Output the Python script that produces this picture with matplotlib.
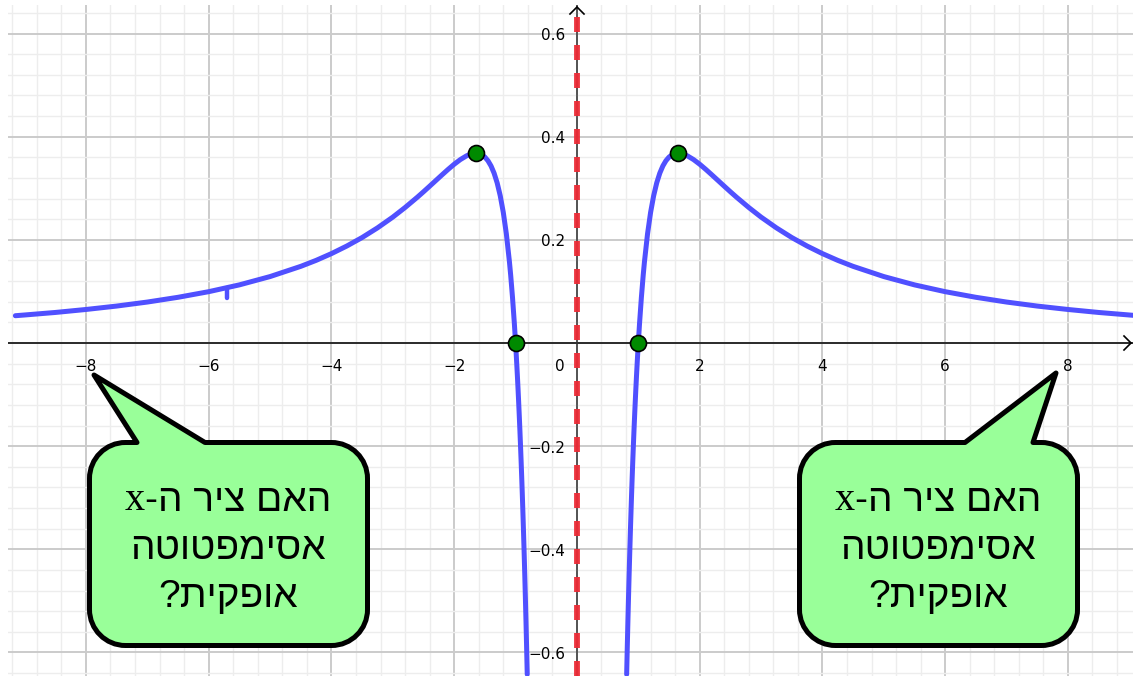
import matplotlib
matplotlib.use('Agg')
import matplotlib.pyplot as plt
import numpy as np
from matplotlib.path import Path
from matplotlib.patches import PathPatch

# ---------------- data ----------------
right_x = [0.81, 0.82, 0.83, 0.84, 0.85, 0.86, 0.87, 0.88, 0.89, 0.90, 0.91, 0.92,
           0.93, 0.94, 0.95, 0.96, 0.97, 0.98, 0.99, 1.00, 1.02, 1.05, 1.08, 1.10,
           1.15, 1.20, 1.25, 1.30, 1.35, 1.40, 1.45, 1.50, 1.55, 1.60, 1.65, 1.70,
           1.75, 1.80, 1.90, 2.00, 2.10, 2.20, 2.30, 2.40, 2.50, 2.60, 2.80, 3.00,
           3.25, 3.50, 3.75, 4.00, 4.25, 4.50, 5.00, 5.50, 6.00, 6.50, 7.00, 7.50,
           8.00, 8.50, 9.00, 9.10]
right_y = [-0.6423, -0.5903, -0.5409, -0.4942, -0.4498, -0.4079, -0.3680, -0.3302,
           -0.2942, -0.2602, -0.2278, -0.1970, -0.1678, -0.1401, -0.1137, -0.0886,
           -0.0647, -0.0421, -0.0205, 0.0000, 0.0381, 0.0885, 0.1320, 0.1575,
           0.2114, 0.2532, 0.2856, 0.3105, 0.3293, 0.3433, 0.3534, 0.3604, 0.3648,
           0.3672, 0.3679, 0.3672, 0.3655, 0.3628, 0.3556, 0.3466, 0.3365, 0.3258,
           0.3149, 0.3040, 0.2932, 0.2827, 0.2627, 0.2441, 0.2232, 0.2045, 0.1880,
           0.1733, 0.1602, 0.1486, 0.1288, 0.1127, 0.0995, 0.0886, 0.0794, 0.0716,
           0.0650, 0.0592, 0.0543, 0.0533]
left_x = [-9.15, -9.00, -8.50, -8.00, -7.50, -7.00, -6.50, -6.00, -5.50, -5.00,
          -4.50, -4.25, -4.00, -3.75, -3.50, -3.25, -3.00, -2.80, -2.60, -2.50,
          -2.40, -2.30, -2.20, -2.10, -2.00, -1.90, -1.80, -1.75, -1.70, -1.65,
          -1.60, -1.55, -1.50, -1.45, -1.40, -1.35, -1.30, -1.25, -1.20, -1.15,
          -1.10, -1.08, -1.05, -1.02, -1.00, -0.99, -0.98, -0.97, -0.96, -0.95,
          -0.94, -0.93, -0.92, -0.91, -0.90, -0.89, -0.88, -0.87, -0.86, -0.85,
          -0.84, -0.83, -0.82, -0.81]
left_y = [0.0529, 0.0543, 0.0592, 0.0650, 0.0716, 0.0794, 0.0886, 0.0995, 0.1127,
          0.1288, 0.1486, 0.1602, 0.1733, 0.1880, 0.2045, 0.2232, 0.2441, 0.2627,
          0.2827, 0.2932, 0.3040, 0.3149, 0.3258, 0.3365, 0.3466, 0.3556, 0.3628,
          0.3655, 0.3672, 0.3679, 0.3672, 0.3648, 0.3604, 0.3534, 0.3433, 0.3293,
          0.3105, 0.2856, 0.2532, 0.2114, 0.1575, 0.1320, 0.0885, 0.0381, 0.0000,
          -0.0205, -0.0421, -0.0647, -0.0886, -0.1137, -0.1401, -0.1678, -0.1970,
          -0.2278, -0.2602, -0.2942, -0.3302, -0.3680, -0.4079, -0.4498, -0.4942,
          -0.5409, -0.5903, -0.6423]
blip_x = [-5.70, -5.70]
blip_y = [0.106, 0.088]

extrema_x = [-1.65, 1.65]
extrema_y = [0.368, 0.368]
zeros_x = [-1.0, 1.0]
zeros_y = [0.0, 0.0]
asymptote_x = 0.0

x_tick_vals = [-8, -6, -4, -2, 2, 4, 6, 8]
y_tick_vals = [-0.6, -0.4, -0.2, 0.2, 0.4, 0.6]

callout_head = 'האם ציר ה-'
callout_var = 'x'
callout_lines = ['אסימפטוטה', 'אופקית?']


def visual(s):
    # Hebrew is right-to-left; matplotlib draws left-to-right
    return s[::-1]


def fmt(v):
    s = ('%g' % v)
    return s.replace('-', '\u2212')


# ---------------- figure ----------------
W, H = 1133, 676
fig = plt.figure(figsize=(W / 100, H / 100), dpi=100)
fig.patch.set_facecolor('white')

left_px, top_px = 8, 5
ax = fig.add_axes([left_px / W, 0, (W - left_px) / W, (H - top_px) / H])
ax.set_xlim(-9.27, 9.06)
ax.set_ylim(-0.6456, 0.6553)
for sp in ax.spines.values():
    sp.set_visible(False)

ax.set_xticks(np.arange(-8, 9, 2))
ax.set_xticks(np.arange(-9.2, 9.2, 0.4), minor=True)
ax.set_yticks(np.arange(-0.6, 0.61, 0.2))
ax.set_yticks(np.arange(-0.64, 0.66, 0.04), minor=True)
ax.grid(which='minor', color='#ededed', lw=1.0, zorder=0)
ax.grid(which='major', color='#cbcbcb', lw=1.4, zorder=0)
ax.tick_params(which='both', length=0, labelbottom=False, labelleft=False)
ax.set_axisbelow(True)

# axes lines
ax.axhline(0, color='black', lw=1.1, zorder=2)
ax.axvline(0, color='#333333', lw=1.1, zorder=2)

# vertical asymptote
plt.rcParams['lines.scale_dashes'] = False
ax.axvline(asymptote_x, color='#ec2b36', lw=4.2, dashes=(15 * 0.72, 13 * 0.72),
           zorder=3, alpha=0.95)

# curve
ax.plot(left_x, left_y, color='#5050ff', lw=3.6, solid_capstyle='round',
        solid_joinstyle='round', zorder=4)
ax.plot(right_x, right_y, color='#5050ff', lw=3.6, solid_capstyle='round',
        solid_joinstyle='round', zorder=4)
ax.plot(blip_x, blip_y, color='#5050ff', lw=3.2, solid_capstyle='round', zorder=4)

# points
ax.plot(extrema_x, extrema_y, 'o', ms=11.5, mfc='#008a00', mec='black', mew=1.2, zorder=5)
ax.plot(zeros_x, zeros_y, 'o', ms=11.5, mfc='#008a00', mec='black', mew=1.2, zorder=5)

# tick labels
tick_font = dict(fontsize=11, color='black', family='DejaVu Sans')
for v in x_tick_vals:
    ax.annotate(fmt(v), (v, 0), xytext=(0, -23 * 0.72), textcoords='offset points',
                ha='center', va='center', zorder=6, **tick_font)
ax.annotate('0', (0, 0), xytext=(-17 * 0.72, -23 * 0.72), textcoords='offset points',
            ha='center', va='center', zorder=6, **tick_font)
for v in y_tick_vals:
    ax.annotate(fmt(v), (0, v), xytext=(-12 * 0.72, -1.5), textcoords='offset points',
                ha='right', va='center', zorder=6, **tick_font)

# ---------------- overlay in pixel coordinates ----------------
ov = fig.add_axes([0, 0, 1, 1])
ov.set_xlim(0, W)
ov.set_ylim(H, 0)
ov.axis('off')
ov.patch.set_visible(False)

# axis arrows
ov.plot([1124, 1131, 1124], [336, 343, 350], color='black', lw=1.2,
        solid_joinstyle='miter')
ov.plot([570, 577, 584], [14, 7, 14], color='black', lw=1.2,
        solid_joinstyle='miter')


def callout(x0, y0, x1, y1, r, bl, br, tip):
    k = 0.5523 * r
    verts = [(x0 + r, y0), (bl, y0), tip, (br, y0), (x1 - r, y0),
             (x1 - r + k, y0), (x1, y0 + r - k), (x1, y0 + r),
             (x1, y1 - r),
             (x1, y1 - r + k), (x1 - r + k, y1), (x1 - r, y1),
             (x0 + r, y1),
             (x0 + r - k, y1), (x0, y1 - r + k), (x0, y1 - r),
             (x0, y0 + r),
             (x0, y0 + r - k), (x0 + r - k, y0), (x0 + r, y0),
             (x0 + r, y0)]
    codes = ([Path.MOVETO] + [Path.LINETO] * 4 + [Path.CURVE4] * 3 + [Path.LINETO]
             + [Path.CURVE4] * 3 + [Path.LINETO] + [Path.CURVE4] * 3 + [Path.LINETO]
             + [Path.CURVE4] * 3 + [Path.CLOSEPOLY])
    p = PathPatch(Path(verts, codes), facecolor='#99ff99', edgecolor='black',
                  lw=3.6, joinstyle='round', zorder=10)
    ov.add_patch(p)


callout(89.5, 442.5, 367.5, 645.5, 36, 137, 205, (94, 375))
callout(799.5, 442.5, 1077.5, 645.5, 36, 965, 1033, (1056, 373))

text_font = dict(fontsize=28, color='black', family=['Liberation Sans', 'DejaVu Sans'])
var_font = dict(fontsize=29, color='black', family=['Liberation Serif', 'DejaVu Serif'])
line_y = [501, 549, 597]
renderer = fig.canvas.get_renderer()
for cx in (228, 938):
    # first line: serif "x" followed (visually) by the Hebrew part
    t_var = ov.text(0, line_y[0], callout_var, ha='left', va='center', zorder=11, **var_font)
    t_heb = ov.text(0, line_y[0], visual(callout_head), ha='left', va='center',
                    zorder=11, **text_font)
    w_var = t_var.get_window_extent(renderer).width
    w_heb = t_heb.get_window_extent(renderer).width
    total = w_var + w_heb
    start = cx - total / 2
    t_var.set_x(start)
    t_heb.set_x(start + w_var)
    for s, yy in zip(callout_lines, line_y[1:]):
        ov.text(cx, yy, visual(s), ha='center', va='center', zorder=11, **text_font)

fig.savefig('out.png', dpi=100, facecolor='white')
